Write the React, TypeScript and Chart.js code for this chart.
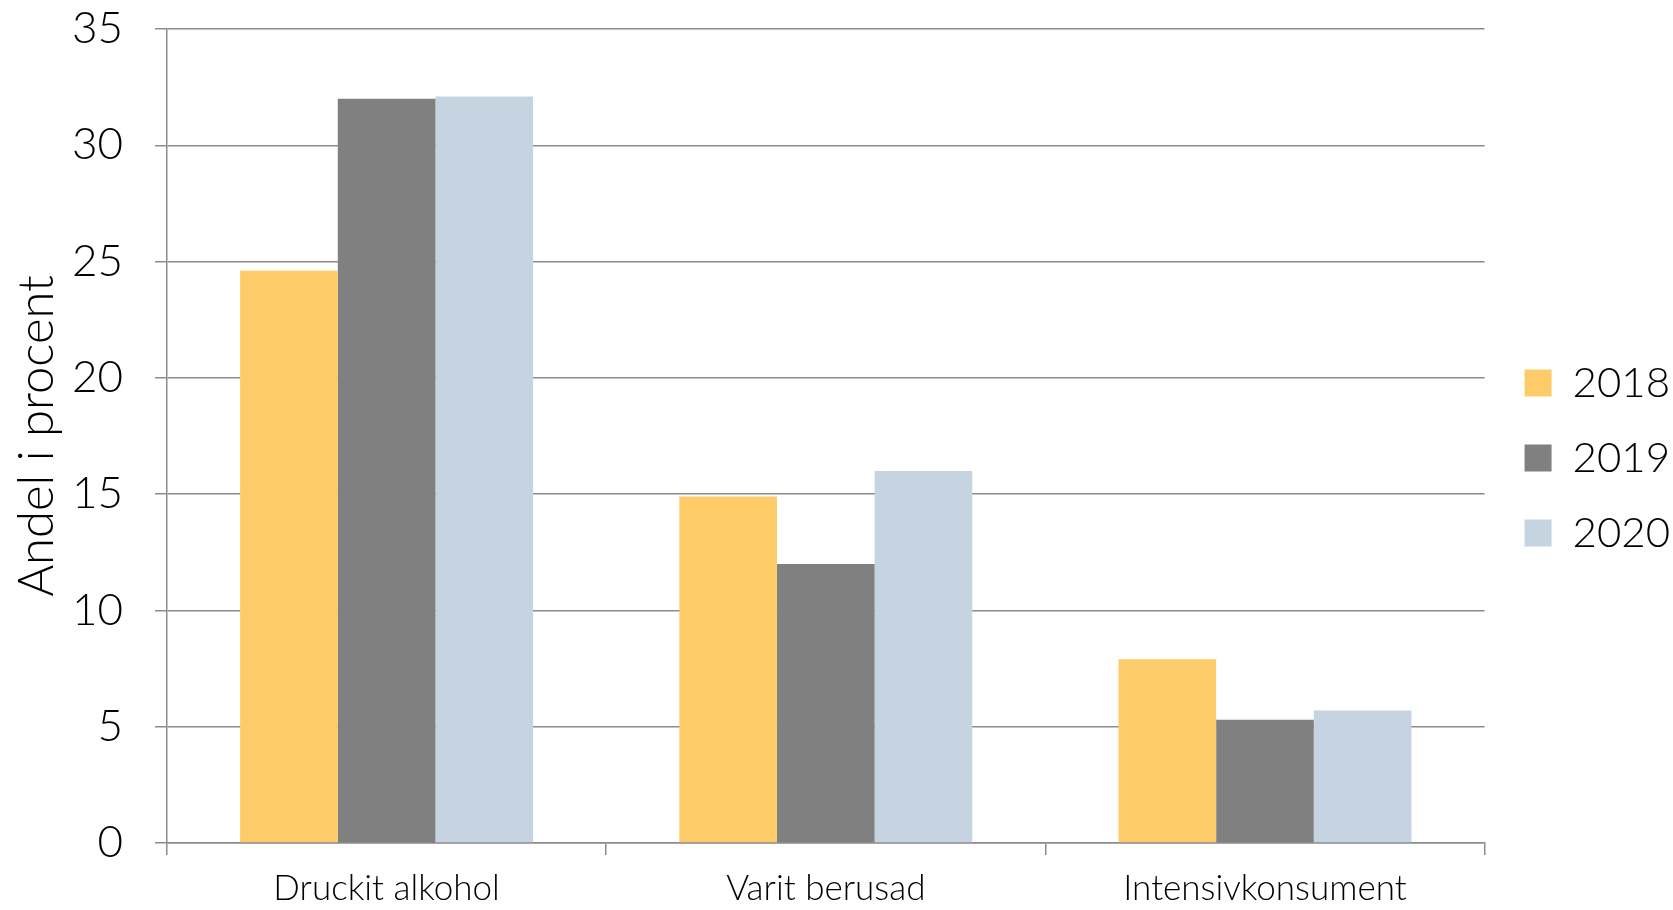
import React, { useEffect, useRef } from "react";
import { Chart, registerables } from "chart.js";

Chart.register(...registerables);

const categories = ["Druckit alkohol", "Varit berusad", "Intensivkonsument"];
const seriesNames = ["2018", "2019", "2020"];
const values2018 = [24.6, 14.9, 7.9];
const values2019 = [32.0, 12.0, 5.3];
const values2020 = [32.1, 16.0, 5.7];
const colors = ["#FECB69", "#808080", "#C5D4E0"];
const yTicks = [0, 5, 10, 15, 20, 25, 30, 35];

const FONT = "Lato, 'Open Sans', sans-serif";
const GRID = "#8c8c8c";

const shiftLegend = {
  id: "shiftLegend",
  afterLayout(chart: any) {
    const lg = chart.legend;
    if (lg) {
      lg.left += 7;
      lg.right += 7;
      lg.top += 3;
      lg.bottom += 3;
    }
  },
};

export default function App() {
  const ref = useRef<HTMLCanvasElement | null>(null);

  useEffect(() => {
    document.body.style.margin = "0";
    const ctx = ref.current;
    if (!ctx) return;
    const seriesValues = [values2018, values2019, values2020];
    const chart = new Chart(ctx, {
      type: "bar",
      data: {
        labels: categories,
        datasets: seriesNames.map((name, i) => ({
          label: name,
          data: seriesValues[i],
          backgroundColor: colors[i],
          borderWidth: 0,
          barPercentage: 1,
          categoryPercentage: 0.667,
        })),
      },
      plugins: [shiftLegend],
      options: {
        responsive: false,
        animation: false,
        maintainAspectRatio: false,
        layout: { padding: { top: 0, right: 0, left: 0, bottom: 0 } },
        plugins: {
          tooltip: { enabled: false },
          legend: {
            position: "right",
            align: "center",
            labels: {
              boxWidth: 27,
              boxHeight: 27,
              padding: 33,
              color: "#000",
              font: { family: FONT, size: 42, weight: "300" },
            },
          },
        },
        scales: {
          x: {
            afterFit: (scale: any) => {
              scale.height = 67;
              scale.paddingLeft = 0;
              scale.paddingRight = 0;
            },
            grid: {
              offset: true,
              drawOnChartArea: false,
              drawTicks: true,
              tickLength: 12,
              color: GRID,
              lineWidth: 1.5,
            },
            border: { color: GRID, width: 1.5 },
            ticks: {
              color: "#000",
              padding: 13,
              font: { family: FONT, size: 35, weight: "300" },
            },
          },
          y: {
            min: 0,
            max: 35,
            afterBuildTicks: (axis: any) => {
              axis.ticks = yTicks.map((v) => ({ value: v }));
            },
            afterFit: (scale: any) => {
              scale.width = 167;
              scale.paddingTop = 29;
              scale.paddingBottom = 0;
            },
            grid: {
              color: GRID,
              lineWidth: 1.5,
              tickLength: 12,
            },
            border: { color: GRID, width: 1.5 },
            ticks: {
              color: "#000",
              padding: 32,
              font: { family: FONT, size: 44, weight: "300" },
            },
            title: {
              display: true,
              text: "Andel i procent",
              color: "#000",
              padding: { top: 8, bottom: 0 },
              font: { family: FONT, size: 49, weight: "300" },
            },
          },
        },
      },
    });
    return () => chart.destroy();
  }, []);

  return (
    <div style={{ position: "absolute", left: 0, top: 0, width: 1673, height: 910, background: "#fff" }}>
      <canvas ref={ref} width={1673} height={910} style={{ width: 1673, height: 910 }} />
    </div>
  );
}
